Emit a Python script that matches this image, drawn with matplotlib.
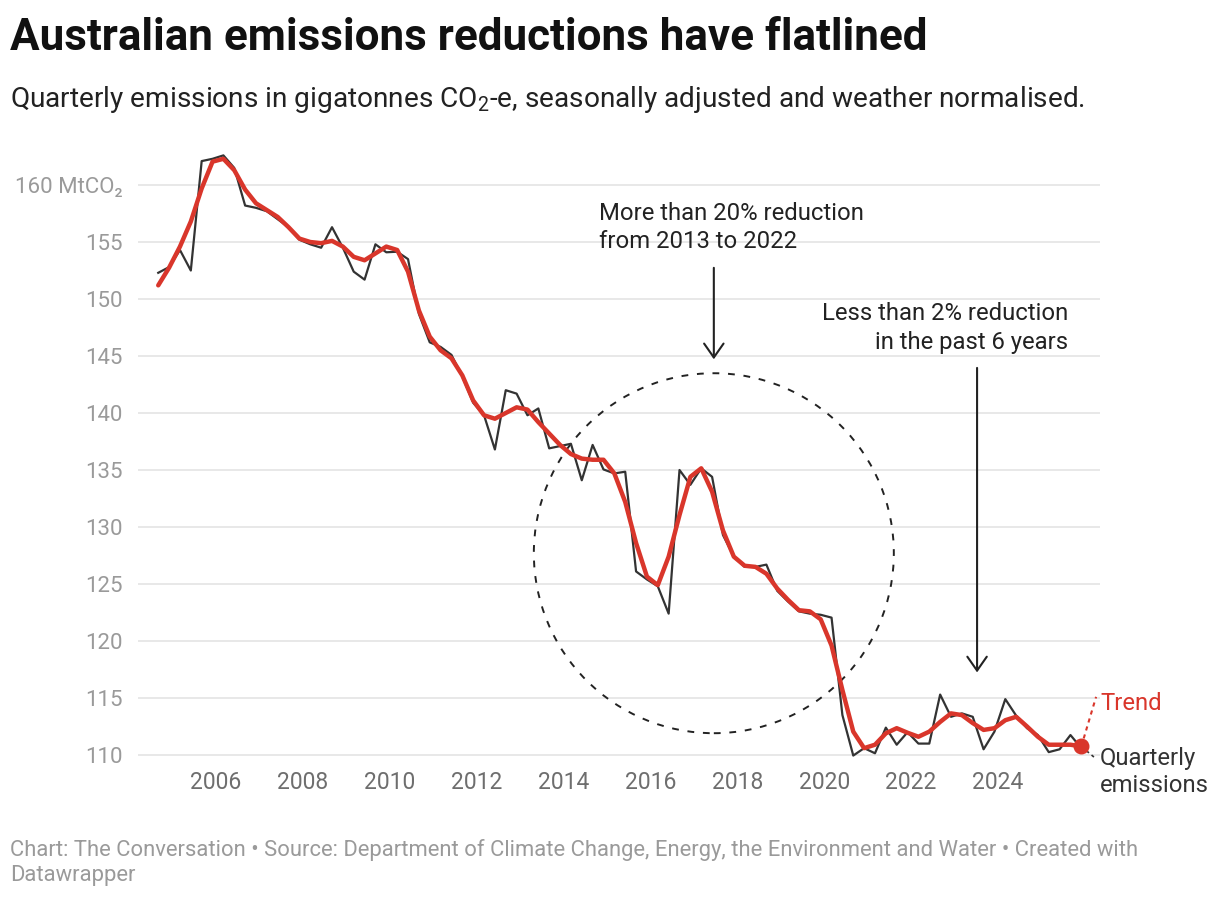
import matplotlib
matplotlib.use("Agg")
import matplotlib.pyplot as plt
from matplotlib.patches import Ellipse

plt.rcParams['font.family'] = ['Roboto', 'DejaVu Sans']
plt.rcParams['mathtext.fontset'] = 'custom'
plt.rcParams['mathtext.rm'] = 'Roboto'

# quarterly emissions, Sep 2004 .. Dec 2025 (MtCO2-e)
quarterly = [152.3, 152.8, 154.3, 152.5, 162.1, 162.3, 162.6, 161.5, 158.2, 158.0,
             157.7, 157.0, 156.3, 155.2, 154.8, 154.5, 156.3, 154.5, 152.4, 151.7,
             154.8, 154.1, 154.15, 153.5, 148.7, 146.2, 145.8, 145.1, 143.2, 140.9,
             139.8, 136.8, 142.0, 141.7, 139.8, 140.4, 136.9, 137.1, 137.3, 134.1,
             137.2, 135.05, 134.7, 134.85, 126.1, 125.4, 124.8, 122.4, 135.0, 133.7,
             135.15, 134.4, 129.3, 127.4, 126.5, 126.5, 126.7, 124.4, 123.45, 122.6,
             122.4, 122.3, 122.05, 113.5, 109.95, 110.6, 110.15, 112.4, 110.9, 112.0,
             111.0, 111.0, 115.3, 113.35, 113.65, 113.35, 110.5, 112.05, 114.9, 113.45,
             112.35, 111.75, 110.25, 110.5, 111.75, 110.6]

trend = [151.2, 152.75, 154.6, 156.8, 159.7, 162.05, 162.3, 161.3, 159.6, 158.4,
         157.8, 157.2, 156.3, 155.3, 155.0, 154.9, 155.1, 154.6, 153.7, 153.4,
         154.0, 154.6, 154.3, 152.4, 149.0, 146.7, 145.5, 144.8, 143.3, 141.1,
         139.8, 139.5, 140.0, 140.5, 140.3, 139.2, 138.2, 137.2, 136.4, 136.0,
         135.9, 135.9, 134.7, 132.2, 128.6, 125.65, 124.9, 127.4, 131.05, 134.4,
         135.15, 133.1, 129.7, 127.4, 126.6, 126.5, 125.9, 124.6, 123.6, 122.7,
         122.6, 121.9, 119.6, 115.7, 112.05, 110.6, 110.9, 111.9, 112.35, 111.95,
         111.6, 112.05, 112.9, 113.65, 113.5, 112.8, 112.2, 112.35, 113.05, 113.35,
         112.5, 111.6, 110.9, 110.9, 110.9, 110.75]

first_quarter = 2004.67
dates = [first_quarter + 0.25 * i for i in range(len(quarterly))]

year_ticks = [2006, 2008, 2010, 2012, 2014, 2016, 2018, 2020, 2022, 2024]
value_ticks = [110, 115, 120, 125, 130, 135, 140, 145, 150, 155, 160]
value_labels = ["110", "115", "120", "125", "130", "135", "140", "145", "150", "155", "160 MtCO₂"]

W, H = 1220, 898
fig = plt.figure(figsize=(W / 100, H / 100), dpi=100)
ax = fig.add_axes([138 / W, 1 - 760 / H, (1100 - 138) / W, 620 / H])

RED = "#d9362b"
DARK = "#333333"

ax.plot(dates, quarterly, color=DARK, lw=1.6, zorder=3)
ax.plot(dates, trend, color=RED, lw=3.2, zorder=4, solid_capstyle="round")
ax.scatter([dates[-1]], [trend[-1]], s=110, color=RED, zorder=5)

ax.set_xlim(2004.204, 2026.35)
ax.set_ylim(109.56, 163.95)
ax.set_yticks(value_ticks)
ax.set_yticklabels(value_labels)
ax.set_xticks(year_ticks)
ax.tick_params(axis="y", length=0, pad=11, labelsize=16, labelcolor="#9a9a9a")
ax.tick_params(axis="x", length=0, pad=8, labelsize=16.5, labelcolor="#6e6e6e")
ax.grid(axis="y", color="#e2e2e2", lw=1.1)
ax.set_axisbelow(True)
for s in ax.spines.values():
    s.set_visible(False)

# dashed circle around the 2013-2022 fall
ax.add_patch(Ellipse((2017.46, 127.7), 360 / 43.44, 360 / 11.4, fill=False,
                     ls=(0, (3.5, 4.5)), lw=1.4, color="#222222", zorder=2))

# arrows
ax.annotate("", xy=(2017.46, 144.47), xytext=(2017.46, 152.98),
            arrowprops=dict(arrowstyle="->,head_length=0.5,head_width=0.35",
                            color="#222222", lw=1.5, mutation_scale=20))
ax.annotate("", xy=(2023.52, 117.0), xytext=(2023.52, 144.2),
            arrowprops=dict(arrowstyle="->,head_length=0.5,head_width=0.35",
                            color="#222222", lw=1.5, mutation_scale=20))

# leader lines for labels
ax.plot([dates[-1], 2026.26], [trend[-1], 115.1], color=RED, ls=(0, (2, 2)),
        lw=1.5, clip_on=False, zorder=3)
ax.plot([dates[-1], 2026.21], [trend[-1], 109.82], color=DARK, ls=(0, (2, 2)),
        lw=1.2, clip_on=False, zorder=3)


def px(x, y):
    return x / W, 1 - y / H


fig.text(*px(10, 50), "Australian emissions reductions have flatlined",
         fontsize=31.7, fontweight="bold", color="#111111", va="baseline")
fig.text(*px(10, 107), r"Quarterly emissions in gigatonnes CO$_2$-e, seasonally adjusted and weather normalised.",
         fontsize=20.2, color="#222222", va="baseline")

fig.text(*px(599, 214), "More than 20% reduction", fontsize=17.2, color="#222222", va="center")
fig.text(*px(599, 242), "from 2013 to 2022", fontsize=17.2, color="#222222", va="center")
fig.text(*px(1068, 314), "Less than 2% reduction", fontsize=17.2, color="#222222", va="center", ha="right")
fig.text(*px(1068, 342), "in the past 6 years", fontsize=17.2, color="#222222", va="center", ha="right")

fig.text(*px(1100, 703), "Trend", fontsize=17.2, color=RED, va="center")
fig.text(*px(1100, 759), "Quarterly", fontsize=17.2, color=DARK, va="center")
fig.text(*px(1100, 785), "emissions", fontsize=17.2, color=DARK, va="center")

fig.text(*px(10, 856), "Chart: The Conversation • Source: Department of Climate Change, Energy, the Environment and Water • Created with",
         fontsize=15.85, color="#9a9a9a", va="baseline")
fig.text(*px(10, 881), "Datawrapper", fontsize=15.85, color="#9a9a9a", va="baseline")

fig.savefig("out.png", dpi=100, facecolor="white")
